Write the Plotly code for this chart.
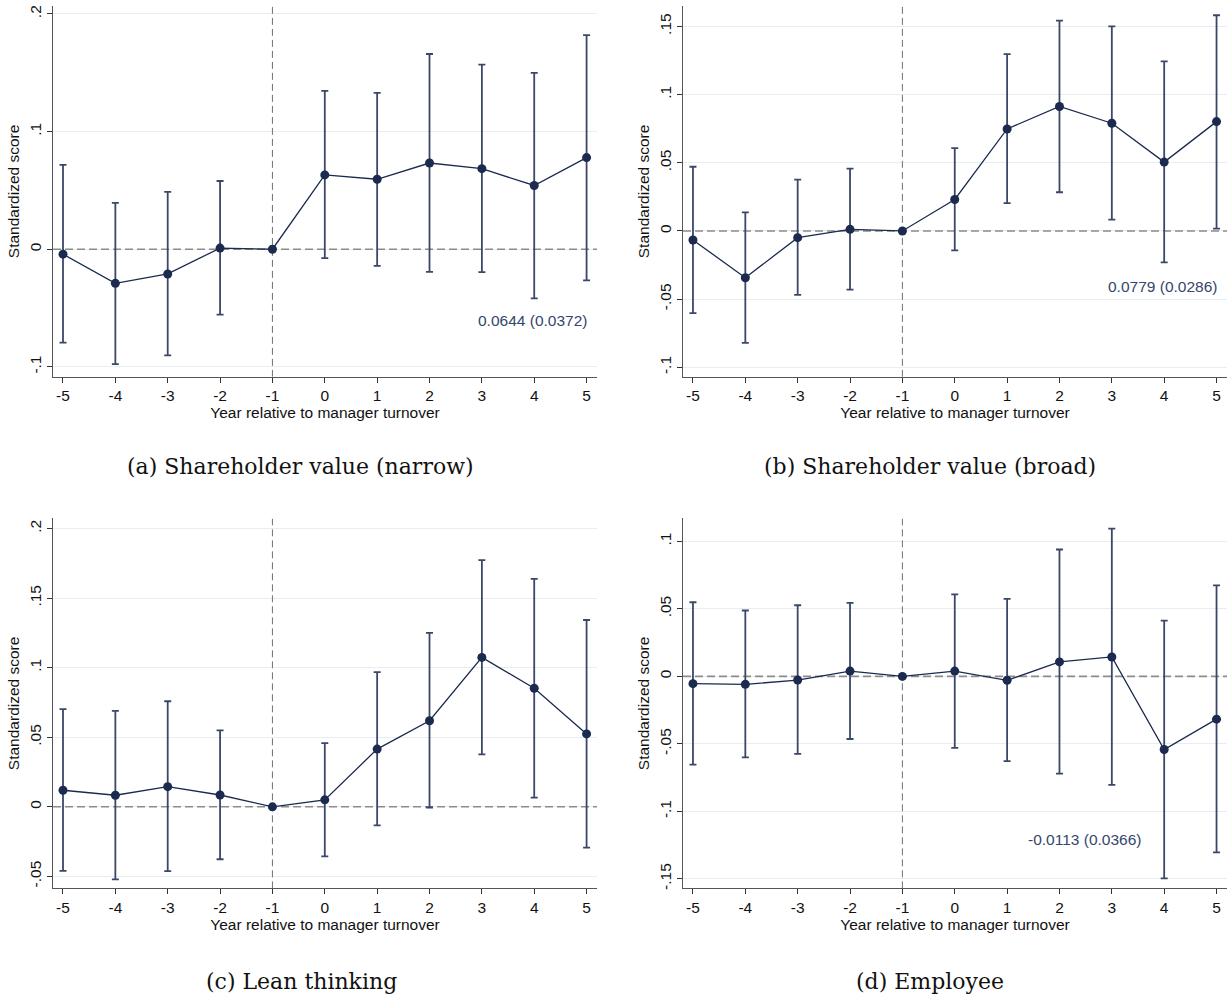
import plotly.graph_objects as go

years = [-5, -4, -3, -2, -1, 0, 1, 2, 3, 4, 5]
x_tick_labels = ["-5", "-4", "-3", "-2", "-1", "0", "1", "2", "3", "4", "5"]

# Panel (a) Shareholder value (narrow)
a_est = [-0.0042, -0.029, -0.021, 0.001, 0.0, 0.0632, 0.0595, 0.0733, 0.0685, 0.0542, 0.0779]
a_hi = [0.0717, 0.0395, 0.0488, 0.058, None, 0.1346, 0.133, 0.166, 0.157, 0.150, 0.182]
a_lo = [-0.0793, -0.0976, -0.0903, -0.0556, None, -0.0076, -0.0141, -0.0192, -0.0195, -0.0417, -0.0265]
a_ticks = [-0.1, 0, 0.1, 0.2]
a_ticktext = ["-.1", "0", ".1", ".2"]
a_note = "0.0644 (0.0372)"

# Panel (b) Shareholder value (broad)
b_est = [-0.0066, -0.0343, -0.0049, 0.0012, 0.0, 0.0231, 0.0748, 0.0913, 0.079, 0.0505, 0.0802]
b_hi = [0.0471, 0.0136, 0.0377, 0.0457, None, 0.0607, 0.1297, 0.1543, 0.150, 0.1244, 0.1582]
b_lo = [-0.0603, -0.0821, -0.0469, -0.043, None, -0.0143, 0.0204, 0.0284, 0.0083, -0.0231, 0.0017]
b_ticks = [-0.1, -0.05, 0, 0.05, 0.1, 0.15]
b_ticktext = ["-.1", "-.05", "0", ".05", ".1", ".15"]
b_note = "0.0779 (0.0286)"

# Panel (c) Lean thinking
c_est = [0.0119, 0.0083, 0.0145, 0.0085, 0.0, 0.005, 0.0415, 0.0619, 0.1074, 0.0852, 0.0524]
c_hi = [0.0702, 0.069, 0.0759, 0.055, None, 0.0458, 0.0968, 0.125, 0.1774, 0.1639, 0.1343]
c_lo = [-0.046, -0.0522, -0.0463, -0.0377, None, -0.0356, -0.0133, -0.0005, 0.0377, 0.0066, -0.0294]
c_ticks = [-0.05, 0, 0.05, 0.1, 0.15, 0.2]
c_ticktext = ["-.05", "0", ".05", ".1", ".15", ".2"]
c_note = "0.0600 (0.0276)"

# Panel (d) Employee
d_est = [-0.0054, -0.0059, -0.0027, 0.0039, 0.0, 0.0039, -0.0029, 0.0107, 0.0144, -0.0542, -0.0317]
d_hi = [0.0549, 0.0488, 0.0527, 0.0544, None, 0.0608, 0.0574, 0.094, 0.1094, 0.0413, 0.0674]
d_lo = [-0.0654, -0.060, -0.0574, -0.0464, None, -0.053, -0.0627, -0.072, -0.0803, -0.1497, -0.1304]
d_ticks = [-0.15, -0.1, -0.05, 0, 0.05, 0.1]
d_ticktext = ["-.15", "-.1", "-.05", "0", ".05", ".1"]
d_note = "-0.0113 (0.0366)"

captions = ["(a) Shareholder value (narrow)", "(b) Shareholder value (broad)",
            "(c) Lean thinking", "(d) Employee"]
x_title = "Year relative to manager turnover"
y_title = "Standardized score"

NAVY = "#1b2a4e"
BAR = "#3b4768"
NOTE = "#34466e"
FONT = "Liberation Sans, Arial, sans-serif"
FS = 15.5
XR = [-5.19, 5.2]

panels = [
    dict(est=a_est, hi=a_hi, lo=a_lo, ticks=a_ticks, tt=a_ticktext, note=a_note,
         yr=[-0.1085, 0.2068], xd=[0.0432, 0.4862], yd=[0.623, 0.995],
         nx=5.04, ny=-0.061, cap=(0.2443, 0.533)),
    dict(est=b_est, hi=b_hi, lo=b_lo, ticks=b_ticks, tt=b_ticktext, note=b_note,
         yr=[-0.107, 0.165], xd=[0.5562, 0.9992], yd=[0.623, 0.995],
         nx=5.05, ny=-0.0408, cap=(0.7573, 0.533)),
    dict(est=c_est, hi=c_hi, lo=c_lo, ticks=c_ticks, tt=c_ticktext, note=c_note,
         yr=[-0.0586, 0.2073], xd=[0.0432, 0.4862], yd=[0.110, 0.481],
         nx=5.25, ny=0.187, cap=(0.2459, 0.017)),
    dict(est=d_est, hi=d_hi, lo=d_lo, ticks=d_ticks, tt=d_ticktext, note=d_note,
         yr=[-0.157, 0.117], xd=[0.5562, 0.9992], yd=[0.110, 0.481],
         nx=3.6, ny=-0.121, cap=(0.7573, 0.017)),
]

fig = go.Figure()
annotations = []

for i, p in enumerate(panels):
    n = i + 1
    xa = "x" if n == 1 else f"x{n}"
    ya = "y" if n == 1 else f"y{n}"
    # reference lines (drawn as traces so they sit above the gridlines)
    fig.add_trace(go.Scatter(
        x=XR, y=[0, 0], mode="lines", xaxis=xa, yaxis=ya, showlegend=False,
        hoverinfo="skip", line=dict(color="#8c8c8c", width=1.6, dash="8px,4px")))
    fig.add_trace(go.Scatter(
        x=[-1, -1], y=p["yr"], mode="lines", xaxis=xa, yaxis=ya, showlegend=False,
        hoverinfo="skip", line=dict(color="#707070", width=1, dash="7px,4px")))
    ex, ey, up, dn = [], [], [], []
    for yr, e, h, l in zip(years, p["est"], p["hi"], p["lo"]):
        if h is None:
            continue
        ex.append(yr)
        ey.append(e)
        up.append(h - e)
        dn.append(e - l)
    fig.add_trace(go.Scatter(
        x=ex, y=ey, mode="markers", xaxis=xa, yaxis=ya, showlegend=False,
        marker=dict(size=1, color="rgba(0,0,0,0)"), hoverinfo="skip",
        error_y=dict(type="data", symmetric=False, array=up, arrayminus=dn,
                     color=BAR, thickness=1.8, width=3.5)))
    fig.add_trace(go.Scatter(
        x=years, y=p["est"], mode="lines+markers", xaxis=xa, yaxis=ya, showlegend=False,
        line=dict(color=NAVY, width=1.3),
        marker=dict(size=9, color=NAVY)))

    ax_common = dict(showline=True, linecolor="#555555", linewidth=1, mirror=False,
                     ticks="outside", ticklen=5, tickcolor="#333333", tickwidth=1,
                     tickfont=dict(family=FONT, size=FS, color="#111111"),
                     zeroline=False)
    fig.update_layout(**{
        ("xaxis" if n == 1 else f"xaxis{n}"): dict(
            domain=p["xd"], anchor=ya, range=XR,
            tickvals=years, ticktext=x_tick_labels, showgrid=False,
            title=dict(text=x_title, font=dict(family=FONT, size=FS, color="#111111"),
                       standoff=0),
            **ax_common),
        ("yaxis" if n == 1 else f"yaxis{n}"): dict(
            domain=p["yd"], anchor=xa, range=p["yr"],
            tickvals=p["ticks"], ticktext=p["tt"], tickangle=-90,
            showgrid=True, gridcolor="#e6eff0", gridwidth=1,
            title=dict(text=y_title, font=dict(family=FONT, size=FS, color="#111111"),
                       standoff=3),
            **ax_common),
    })
    annotations.append(dict(x=p["nx"], y=p["ny"], xref=xa, yref=ya, text=p["note"],
                            showarrow=False, xanchor="right", yanchor="middle",
                            font=dict(family=FONT, size=FS, color=NOTE)))
    annotations.append(dict(x=p["cap"][0], y=p["cap"][1], xref="paper", yref="paper",
                            text=captions[i], showarrow=False, xanchor="center",
                            yanchor="middle",
                            font=dict(family="DejaVu Serif, Liberation Serif, serif",
                                      size=22, color="#111111")))

fig.update_layout(width=1228, height=1000, margin=dict(l=0, r=0, t=0, b=0),
                  paper_bgcolor="white", plot_bgcolor="white",
                  annotations=annotations)

fig.write_html("out.html", config={"displayModeBar": False},
               post_script="document.body.style.margin='0';document.body.style.overflow='hidden';")
